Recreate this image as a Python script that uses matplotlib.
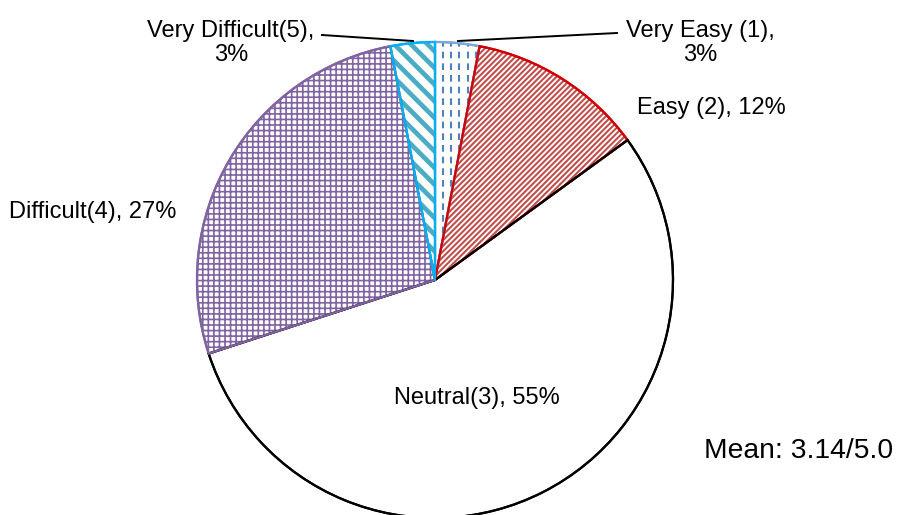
import numpy as np
import matplotlib
matplotlib.use("Agg")
import matplotlib.pyplot as plt

plt.rcParams['font.family'] = ['Liberation Sans', 'DejaVu Sans']

categories = ["Very Easy (1)", "Easy (2)", "Neutral(3)", "Difficult(4)", "Very Difficult(5)"]
shares = [3, 12, 55, 27, 3]
mean_score = 3.14
scale_max = 5.0

W, H = 902, 515
fig = plt.figure(figsize=(W / 100, H / 100), dpi=100)
ax = fig.add_axes([0, 0, 1, 1])

cx, cy, r = 435, H - 280, 238

face = ['white', 'white', 'white', 'white', 'white']
edges = ['#7BA7DA', '#D00000', 'black', '#8064A2', '#00B0F0']
hatches = [None, '//////', None, '+++', '\\\\']
hatch_cols = ['#4F81BD', '#C0504D', 'black', '#8064A2', '#4BACC6']
hatch_lw = [1.0, 1.5, 1.0, 1.2, 3.4]

wedges, _ = ax.pie(shares, center=(cx, cy), radius=r, startangle=90,
                   counterclock=False, colors=face, frame=True,
                   wedgeprops=dict(linewidth=1.6))
ax.set_xlim(0, W)
ax.set_ylim(0, H)
ax.set_aspect('equal')
ax.axis('off')

for i, w in enumerate(wedges):
    w.set_edgecolor(edges[i])
    if hatches[i]:
        w.set_hatch(hatches[i])
        try:
            w.set_hatch_linewidth(hatch_lw[i])
        except AttributeError:
            pass
        try:
            w._hatch_color = matplotlib.colors.to_rgba(hatch_cols[i])
        except Exception:
            pass

# dashed vertical pattern inside the first wedge
w0 = wedges[0]
for x in np.arange(cx + 8, cx + 60, 8.2):
    ln, = ax.plot([x, x], [cy, cy + r + 5], color='#4F81BD', lw=1.5,
                  dashes=(3.2, 2.4), zorder=3)
    ln.set_clip_path(w0)
# wedge outlines on top of the patterns
for i, w in enumerate(wedges):
    ax.add_patch(matplotlib.patches.Wedge((cx, cy), r, w.theta1, w.theta2,
                                          fill=False, edgecolor=edges[i],
                                          linewidth=1.6, zorder=4))

fs = 17
# leader lines
ax.plot([617, 458], [H - 33, H - 41], color='black', lw=1.4, zorder=5)
ax.plot([322, 413], [H - 35, H - 41], color='black', lw=1.4, zorder=5)

labels = [f"{categories[0]},\n{shares[0]}%",
          f"{categories[1]}, {shares[1]}%",
          f"{categories[2]}, {shares[2]}%",
          f"{categories[3]}, {shares[3]}%",
          f"{categories[4]},\n{shares[4]}%"]
pos = [(700, 43), (711, 108), (477, 398), (93, 212), (231, 43)]
for t, (x, y) in zip(labels, pos):
    ax.text(x, H - y, t, ha='center', va='center', fontsize=fs,
            linespacing=1.15, color='black', zorder=6)

ax.text(893, H - 451, f"Mean: {mean_score:.2f}/{scale_max:.1f}", ha='right',
        va='center', fontsize=20.3, color='black')

fig.savefig("out.png", dpi=100)
